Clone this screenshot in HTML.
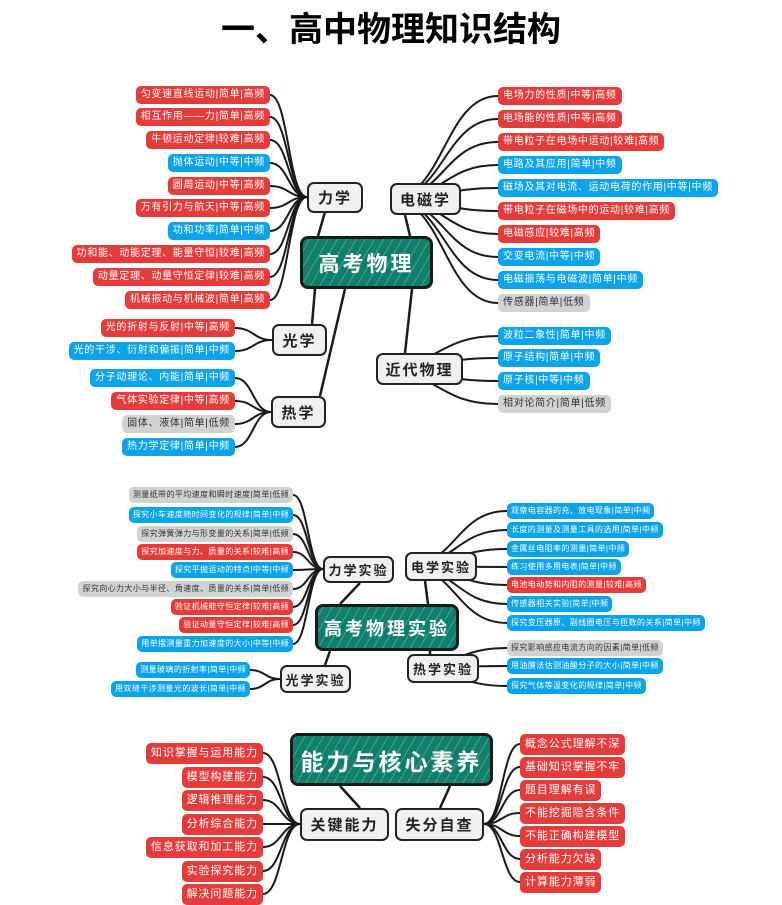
<!DOCTYPE html>
<html><head><meta charset="utf-8"><style>
body{margin:0;width:782px;height:895px;position:relative;background:#fff;overflow:hidden;font-family:"Liberation Sans","Noto Sans CJK SC",sans-serif}
.t{position:absolute;left:0;width:782px;text-align:center;top:2px;font-size:34px;font-weight:bold;color:#000}
.l{position:absolute;height:18px;line-height:18px;font-size:10px;letter-spacing:.7px;color:#fff;border-radius:5px;padding:0 5px;white-space:nowrap;box-sizing:border-box}
.s{height:16px;line-height:16px;font-size:8px;letter-spacing:.4px;padding:0 4px}
.b{height:21px;line-height:21px;font-size:11px;letter-spacing:.9px;padding:0 5px}
.r{background:#e43b3b}.u{background:#0ba3ea}.g{background:#d2d2d2;color:#333}
.n{position:absolute;background:#f0f0f0;border:2px solid #222;border-radius:7px;font-weight:bold;color:#222;display:flex;align-items:center;justify-content:center;box-sizing:border-box;letter-spacing:2px}
.c{position:absolute;background:#0f7f6c;border:3px solid #1a1a1a;border-radius:8px;color:#fff;font-weight:bold;display:flex;align-items:center;justify-content:center;box-sizing:border-box;letter-spacing:3px;background-image:repeating-linear-gradient(-60deg,rgba(255,255,255,0) 0 7px,rgba(255,255,255,.25) 7px 8px)}
svg{position:absolute;left:0;top:0}
</style></head><body>
<div class="t">一、高中物理知识结构</div>
<svg id="sv" width="782" height="895"></svg>

<div class="l r" style="right:512px;top:86px">匀变速直线运动|简单|高频</div>
<div class="l r" style="right:512px;top:108px">相互作用——力|简单|高频</div>
<div class="l r" style="right:512px;top:131px">牛顿运动定律|较难|高频</div>
<div class="l u" style="right:512px;top:154px">抛体运动|中等|中频</div>
<div class="l r" style="right:512px;top:177px">圆周运动|中等|高频</div>
<div class="l r" style="right:512px;top:199px">万有引力与航天|中等|高频</div>
<div class="l u" style="right:512px;top:222px">功和功率|简单|中频</div>
<div class="l r" style="right:512px;top:245px">功和能、动能定理、能量守恒|较难|高频</div>
<div class="l r" style="right:512px;top:268px">动量定理、动量守恒定律|较难|高频</div>
<div class="l r" style="right:512px;top:291px">机械振动与机械波|简单|高频</div>
<div class="l r" style="right:547px;top:319px">光的折射与反射|中等|高频</div>
<div class="l u" style="right:547px;top:342px">光的干涉、衍射和偏振|简单|中频</div>
<div class="l u" style="right:547px;top:369px">分子动理论、内能|简单|中频</div>
<div class="l r" style="right:547px;top:392px">气体实验定律|中等|高频</div>
<div class="l g" style="right:547px;top:415px">固体、液体|简单|低频</div>
<div class="l u" style="right:547px;top:438px">热力学定律|简单|中频</div>
<div class="l r" style="left:498px;top:87px">电场力的性质|中等|高频</div>
<div class="l r" style="left:498px;top:110px">电场能的性质|中等|高频</div>
<div class="l r" style="left:498px;top:133px">带电粒子在电场中运动|较难|高频</div>
<div class="l u" style="left:498px;top:156px">电路及其应用|简单|中频</div>
<div class="l u" style="left:498px;top:179px">磁场及其对电流、运动电荷的作用|中等|中频</div>
<div class="l r" style="left:498px;top:202px">带电粒子在磁场中的运动|较难|高频</div>
<div class="l r" style="left:498px;top:225px">电磁感应|较难|高频</div>
<div class="l u" style="left:498px;top:248px">交变电流|中等|中频</div>
<div class="l u" style="left:498px;top:271px">电磁振荡与电磁波|简单|中频</div>
<div class="l g" style="left:498px;top:294px">传感器|简单|低频</div>
<div class="l u" style="left:498px;top:327px">波粒二象性|简单|中频</div>
<div class="l u" style="left:498px;top:349px">原子结构|简单|中频</div>
<div class="l u" style="left:498px;top:372px">原子核|中等|中频</div>
<div class="l g" style="left:498px;top:395px">相对论简介|简单|低频</div>

<div class="n" style="left:307px;top:182px;width:56px;height:31px;font-size:15px">力学</div>
<div class="n" style="left:390px;top:183px;width:71px;height:32px;font-size:15px">电磁学</div>
<div class="c" style="left:300px;top:236px;width:133px;height:53px;font-size:21px">高考物理</div>
<div class="n" style="left:272px;top:324px;width:55px;height:32px;font-size:15px">光学</div>
<div class="n" style="left:271px;top:396px;width:55px;height:32px;font-size:15px">热学</div>
<div class="n" style="left:376px;top:353px;width:87px;height:32px;font-size:15px">近代物理</div>

<div class="l s g" style="right:489px;top:487px">测量纸带的平均速度和瞬时速度|简单|低频</div>
<div class="l s u" style="right:489px;top:507px">探究小车速度随时间变化的规律|简单|中频</div>
<div class="l s g" style="right:489px;top:526px">探究弹簧弹力与形变量的关系|简单|低频</div>
<div class="l s r" style="right:489px;top:544px">探究加速度与力、质量的关系|较难|高频</div>
<div class="l s u" style="right:489px;top:562px">探究平抛运动的特点|中等|中频</div>
<div class="l s g" style="right:489px;top:581px">探究向心力大小与半径、角速度、质量的关系|简单|低频</div>
<div class="l s r" style="right:489px;top:599px">验证机械能守恒定律|较难|高频</div>
<div class="l s r" style="right:489px;top:617px">验证动量守恒定律|较难|高频</div>
<div class="l s u" style="right:489px;top:636px">用单摆测量重力加速度的大小|中等|中频</div>
<div class="l s u" style="right:532px;top:662px">测量玻璃的折射率|简单|中频</div>
<div class="l s u" style="right:532px;top:681px">用双缝干涉测量光的波长|简单|中频</div>
<div class="l s u" style="left:507px;top:503px">观察电容器的充、放电现象|简单|中频</div>
<div class="l s u" style="left:507px;top:522px">长度的测量及测量工具的选用|简单|中频</div>
<div class="l s u" style="left:507px;top:541px">金属丝电阻率的测量|简单|中频</div>
<div class="l s u" style="left:507px;top:559px">练习使用多用电表|简单|中频</div>
<div class="l s r" style="left:507px;top:577px">电池电动势和内阻的测量|较难|高频</div>
<div class="l s u" style="left:507px;top:596px">传感器相关实验|简单|中频</div>
<div class="l s u" style="left:507px;top:615px">探究变压器原、副线圈电压与匝数的关系|简单|中频</div>
<div class="l s g" style="left:507px;top:640px">探究影响感应电流方向的因素|简单|低频</div>
<div class="l s u" style="left:507px;top:658px">用油膜法估测油酸分子的大小|简单|中频</div>
<div class="l s u" style="left:507px;top:678px">探究气体等温变化的规律|简单|中频</div>

<div class="n" style="left:323px;top:556px;width:71px;height:27px;font-size:13px">力学实验</div>
<div class="n" style="left:405px;top:552px;width:72px;height:29px;font-size:13px">电学实验</div>
<div class="c" style="left:315px;top:604px;width:144px;height:47px;font-size:18px">高考物理实验</div>
<div class="n" style="left:280px;top:665px;width:71px;height:28px;font-size:13px">光学实验</div>
<div class="n" style="left:407px;top:654px;width:72px;height:29px;font-size:13px">热学实验</div>

<div class="l b r" style="right:519px;top:743px">知识掌握与运用能力</div>
<div class="l b r" style="right:519px;top:767px">模型构建能力</div>
<div class="l b r" style="right:519px;top:790px">逻辑推理能力</div>
<div class="l b r" style="right:519px;top:814px">分析综合能力</div>
<div class="l b r" style="right:519px;top:837px">信息获取和加工能力</div>
<div class="l b r" style="right:519px;top:861px">实验探究能力</div>
<div class="l b r" style="right:519px;top:884px">解决问题能力</div>
<div class="l b r" style="left:520px;top:734px">概念公式理解不深</div>
<div class="l b r" style="left:520px;top:757px">基础知识掌握不牢</div>
<div class="l b r" style="left:520px;top:780px">题目理解有误</div>
<div class="l b r" style="left:520px;top:803px">不能挖掘隐含条件</div>
<div class="l b r" style="left:520px;top:826px">不能正确构建模型</div>
<div class="l b r" style="left:520px;top:849px">分析能力欠缺</div>
<div class="l b r" style="left:520px;top:872px">计算能力薄弱</div>

<div class="c" style="left:290px;top:733px;width:203px;height:53px;font-size:23px">能力与核心素养</div>
<div class="n" style="left:300px;top:808px;width:89px;height:33px;font-size:15px">关键能力</div>
<div class="n" style="left:395px;top:808px;width:89px;height:33px;font-size:15px">失分自查</div>

<script>
var L=[];
function fan(x0,y0,x1,ys){ys.forEach(function(y){L.push([x0,y0,x1,y]);});}
fan(307,197,270,[95,117,140,163,186,208,231,254,277,300]);
fan(390,199,498,[96,119,142,165,188,211,234,257,280,303]);
fan(272,340,235,[328,351]);
fan(271,412,235,[378,401,424,447]);
fan(376,369,498,[336,358,381,404]);
fan(323,569,293,[495,515,534,552,570,589,607,625,644]);
fan(280,679,250,[670,689]);
fan(405,566,507,[511,530,549,567,585,604,623]);
fan(407,668,507,[648,666,686]);
fan(300,824,263,[753,777,800,824,847,871,894]);
fan(484,824,520,[744,767,790,813,836,859,882]);
var s='';
L.forEach(function(a){var mx=(a[0]+a[2])/2;
s+='<path d="M'+a[0]+' '+a[1]+' C'+mx+' '+a[1]+' '+mx+' '+a[3]+' '+a[2]+' '+a[3]+'" fill="none" stroke="#1a1a1a" stroke-width="2"/>';});
[[325,212,318,236],[405,215,410,236],[315,289,312,324],[345,289,320,396],[412,289,405,353],
 [360,583,340,604],[425,581,428,604],[330,651,325,665],[430,651,430,654],
 [340,786,360,808],[450,786,440,808]].forEach(function(a){
s+='<path d="M'+a[0]+' '+a[1]+' L'+a[2]+' '+a[3]+'" stroke="#1a1a1a" stroke-width="2.5"/>';});
document.getElementById('sv').innerHTML=s;
</script>
</body></html>
